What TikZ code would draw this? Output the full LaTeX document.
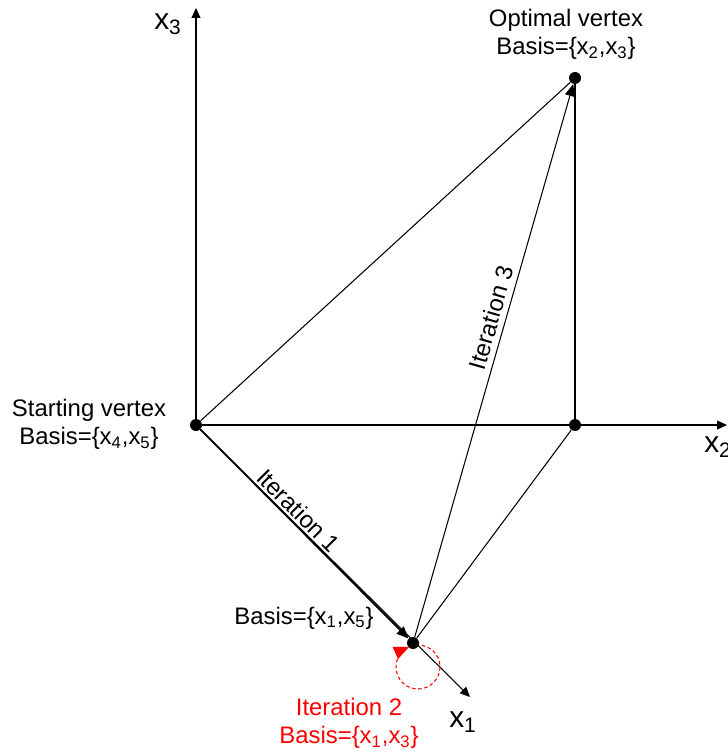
\documentclass[tikz,border=0pt]{standalone}
\usepackage{fontspec}
\setmainfont{Liberation Sans}
\usetikzlibrary{arrows.meta}
\definecolor{iterRojo}{HTML}{FF0000}

\begin{document}
\begin{tikzpicture}[x=0.02cm, y=-0.02cm, font=\fontsize{13.6}{16}\selectfont, every node/.style={align=center},
    vtx/.style={circle, fill=black, inner sep=0pt, minimum size=0.24cm},
    axis/.style={line width=0.6pt, -{Triangle[length=2mm, width=1.8mm]}},
    axislabel/.style={font=\fontsize{17}{20}\selectfont},
    edge/.style={line width=0.6pt},
    iter/.style={line width=1pt, -{Triangle[length=2.4mm, width=2mm]}}]
    \useasboundingbox (0,0) rectangle (727,753);
    \node[vtx] (O) at (196,425) {};
    \node[vtx] (A) at (413,643) {};
    \node[vtx] (B) at (575,425) {};
    \node[vtx] (C) at (575,78)  {};
    \coordinate (x1end) at (470,697);
    \coordinate (x2end) at (727,425);
    \coordinate (x3end) at (196,8);
    \coordinate (loopc) at (418,667);
    \draw[axis] (O) -- (x1end);
    \draw[axis] (O) -- (x2end);
    \draw[axis] (O) -- (x3end);
    \draw[edge] (O) -- (C);
    \draw[edge] (A) -- (B);
    \draw[edge] (B) -- (C);
    \draw[iter] (O) -- node[pos=0.43, sloped, above, inner sep=1.5pt] {Iteration 1} (A);
    \draw[edge, -{Triangle[length=2.4mm, width=2mm]}] (A) -- node[pos=0.57, sloped, above, inner sep=3pt] {Iteration 3} (C);
    \draw[iterRojo, line width=0.6pt, dash pattern=on 2pt off 1.5pt, -{Triangle[length=3mm, width=2.6mm]}]
        (loopc) ++(-80:22) arc[start angle=-80, end angle=246, radius=22];
    \node[axislabel] at (168,24)  {x\textsubscript{3}};
    \node[axislabel] at (718,447) {x\textsubscript{2}};
    \node[axislabel] at (463,722) {x\textsubscript{1}};
    \node at (566,34)  {Optimal vertex\\Basis=\{x\textsubscript{2},x\textsubscript{3}\}};
    \node at (89,424)  {Starting vertex\\Basis=\{x\textsubscript{4},x\textsubscript{5}\}};
    \node at (304,618) {Basis=\{x\textsubscript{1},x\textsubscript{5}\}};
    \node[text=iterRojo] at (349,723) {Iteration 2\\Basis=\{x\textsubscript{1},x\textsubscript{3}\}};
\end{tikzpicture}
\end{document}
